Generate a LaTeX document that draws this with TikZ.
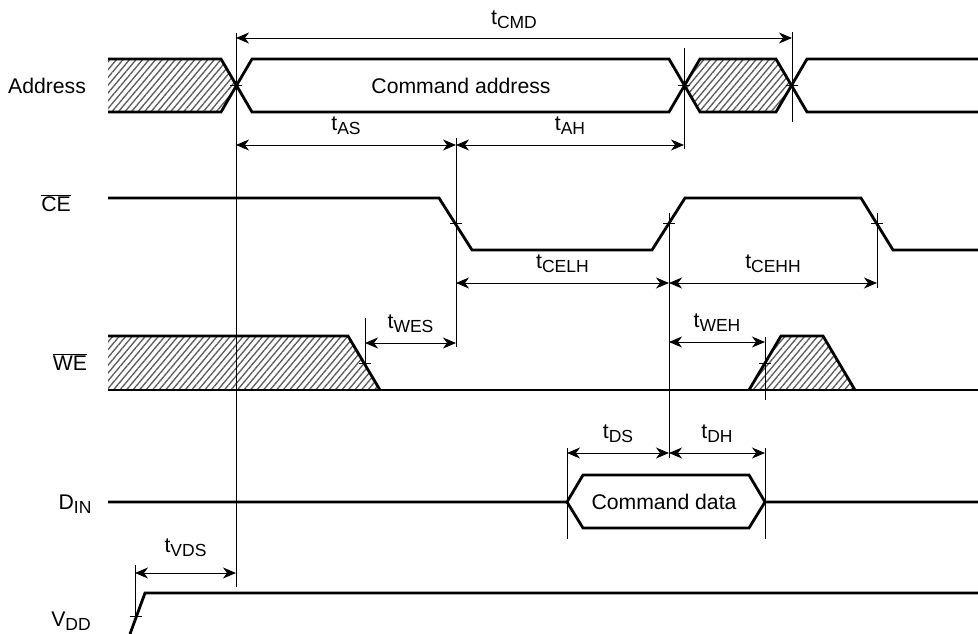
\documentclass[tikz,border=0pt]{standalone}
\usepackage{fontspec}
\setmainfont{Liberation Sans}
\usetikzlibrary{arrows.meta,patterns.meta,positioning,calc}

\newcommand{\subl}[2]{#1\raisebox{-4pt}{\fontsize{17.5}{18}\selectfont #2}}

\begin{document}
\begin{tikzpicture}[x=1pt,y=-1pt,>={Stealth[length=13pt,width=11pt,inset=4pt]},
line join=miter,
sig/.style={line width=2.8pt},
hatch/.style={pattern={Lines[angle=50,distance=5pt,line width=1.3pt]},pattern color=black!65},
guide/.style={line width=0.9pt},
dim/.style={<->,line width=0.9pt},
tick/.style={line width=0.9pt},
txt/.style={font=\fontsize{21.2}{25}\selectfont, inner sep=0pt},
tlbl/.style={txt, above=10pt}]
\useasboundingbox (0,0) rectangle (978,634);

% signal names
\node[txt, anchor=base] (addr) at (47,93) {Address};
\node[txt, anchor=base] (ce) at (56,211) {$\overline{\mbox{CE}}$};
\node[txt, anchor=base] (we) at (70,370) {$\overline{\mbox{WE}}$};
\node[txt, anchor=base] (din) at (75,509) {\subl{D}{IN}};
\node[txt, anchor=base] (vdd) at (71,626) {\subl{V}{DD}};

% Address
\fill[hatch] (108,59) -- (221,59) -- (236,85.5) -- (221,112) -- (108,112) -- cycle;
\fill[hatch] (684,85.5) -- (700,59) -- (776,59) -- (792,85.5) -- (776,112) -- (700,112) -- cycle;
\draw[sig] (108,59) -- (221,59) -- (252,112) -- (669,112) -- (700,59) -- (776,59) -- (807,112) -- (978,112);
\draw[sig] (108,112) -- (221,112) -- (252,59) -- (669,59) -- (700,112) -- (776,112) -- (807,59) -- (978,59);
\node[txt, anchor=base] (cmdaddr) at (461,93) {Command address};

% CE
\draw[sig] (108,198) -- (439,198) -- (472,250) -- (652,250) -- (685,198) -- (861,198) -- (893,250) -- (978,250);

% WE
\fill[hatch] (108,336) -- (348,336) -- (380,390) -- (108,390) -- cycle;
\fill[hatch] (749,390) -- (781,336) -- (823,336) -- (855,390) -- cycle;
\draw[sig] (108,336) -- (348,336) -- (380,390);
\draw[sig] (749,390) -- (781,336) -- (823,336) -- (855,390);
\draw[sig] (108,390) -- (978,390);

% DIN
\draw[sig] (108,502) -- (567,502) -- (583,475) -- (749,475) -- (765,502) -- (978,502);
\draw[sig] (567,502) -- (583,528) -- (749,528) -- (765,502);
\node[txt, anchor=base] (cmddata) at (664,509) {Command data};

% VDD
\draw[sig] (130,634) -- (145,593) -- (978,593);

% guide lines
\draw[guide] (236,33) -- (236,587);
\draw[guide] (792,32) -- (792,122);
\draw[guide] (684,48) -- (684,149);
\draw[guide] (456,138) -- (456,347);
\draw[guide] (669,213) -- (669,458);
\draw[guide] (877,213) -- (877,288);
\draw[guide] (365,318) -- (365,363);
\draw[guide] (765,337) -- (765,400);
\draw[guide] (567,448) -- (567,539);
\draw[guide] (765,448) -- (765,539);
\draw[guide] (135,565) -- (135,618);

% crossing ticks
\foreach \x/\y in {236/85.5, 684/85.5, 792/85.5, 456/223, 669/223, 877/223, 365/363, 765/363, 136/616}
  \draw[tick] (\x-6,\y) -- (\x+6,\y);

% timing arrows
\draw[dim] (236,38) -- node[tlbl, above=9pt] (tcmd) {\subl{t}{CMD}} (792,38);
\draw[dim] (236,145) -- node[tlbl] (tas) {\subl{t}{AS}} (456,145);
\draw[dim] (456,145) -- node[tlbl] (tah) {\subl{t}{AH}} (684,145);
\draw[dim] (456,283) -- node[tlbl] (tcelh) {\subl{t}{CELH}} (669,283);
\draw[dim] (669,283) -- node[tlbl] (tcehh) {\subl{t}{CEHH}} (877,283);
\draw[dim] (365,343) -- node[tlbl] (twes) {\subl{t}{WES}} (456,343);
\draw[dim] (669,342) -- node[tlbl] (tweh) {\subl{t}{WEH}} (765,342);
\draw[dim] (567,453) -- node[tlbl] (tds) {\subl{t}{DS}} (669,453);
\draw[dim] (669,453) -- node[tlbl] (tdh) {\subl{t}{DH}} (765,453);
\draw[dim] (135,573) -- node[tlbl, above=16pt] (tvds) {\subl{t}{VDS}} (236,573);

\end{tikzpicture}
\end{document}
